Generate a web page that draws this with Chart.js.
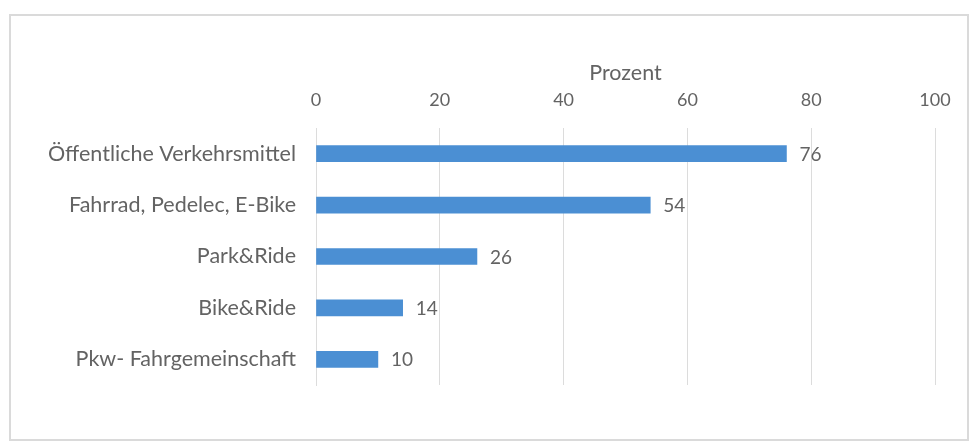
<!DOCTYPE html>
<html>
<head>
<meta charset="utf-8">
<script src="https://cdn.jsdelivr.net/npm/chart.js@4"></script>
<style>
  html, body { margin: 0; padding: 0; background: #fff; }
  #wrap { position: relative; width: 977px; height: 443px; }
  #frame {
    position: absolute; left: 9px; top: 14px; width: 956px; height: 423px;
    border: 2px solid #dadada; pointer-events: none;
  }
</style>
</head>
<body>
<div id="wrap">
  <canvas id="chart" width="977" height="443"></canvas>
  <div id="frame"></div>
</div>
<script>
// Werte aus der Vorlage (Prozent)
const categories = [
    "Öffentliche Verkehrsmittel",
    "Fahrrad, Pedelec, E-Bike",
    "Park&Ride",
    "Bike&Ride",
    "Pkw- Fahrgemeinschaft"
];
const values = [76, 54, 26, 14, 10];
const axisTicks = [0, 20, 40, 60, 80, 100];
const axisTitle = "Prozent";

const textColor = '#636363';
const fontFamily = "Lato, 'Open Sans', sans-serif";

// draws the number next to each bar
const valueLabels = {
    id: 'valueLabels',
    afterDatasetsDraw(chart) {
        const ctx = chart.ctx;
        const meta = chart.getDatasetMeta(0);
        ctx.save();
        ctx.fillStyle = textColor;
        ctx.font = "19px " + fontFamily;
        ctx.textAlign = 'left';
        ctx.textBaseline = 'middle';
        meta.data.forEach((bar, i) => {
            ctx.fillText(values[i], bar.x + 13, bar.y + 1);
        });
        ctx.restore();
    }
};

const ctx = document.getElementById('chart').getContext('2d');
new Chart(ctx, {
    type: 'bar',
    data: {
        labels: categories,
        datasets: [{
            data: values,
            backgroundColor: '#4b8fd3',
            borderWidth: 0,
            barThickness: 16
        }]
    },
    options: {
        indexAxis: 'y',
        responsive: false,
        animation: false,
        layout: {
            padding: { top: 58, right: 42, bottom: 58, left: 0 }
        },
        plugins: {
            legend: { display: false },
            tooltip: { enabled: false }
        },
        scales: {
            x: {
                position: 'top',
                min: 0,
                max: 100,
                afterBuildTicks(scale) {
                    scale.ticks = axisTicks.map(v => ({ value: v }));
                },
                afterFit(scale) {
                    scale.height = 70;
                },
                border: { display: false },
                grid: { color: '#dcdcdc', lineWidth: 1, drawTicks: false },
                ticks: {
                    color: textColor,
                    padding: 17,
                    font: { family: fontFamily, size: 18 }
                },
                title: {
                    display: true,
                    text: axisTitle,
                    color: textColor,
                    padding: { top: 2, bottom: 4 },
                    font: { family: fontFamily, size: 21.5 }
                }
            },
            y: {
                afterFit(scale) {
                    scale.width = 316;
                },
                border: { display: true, color: '#dcdcdc' },
                grid: { display: false, drawTicks: false },
                ticks: {
                    color: textColor,
                    padding: 20,
                    font: { family: fontFamily, size: 21.5 }
                }
            }
        }
    },
    plugins: [valueLabels]
});
</script>
</body>
</html>
